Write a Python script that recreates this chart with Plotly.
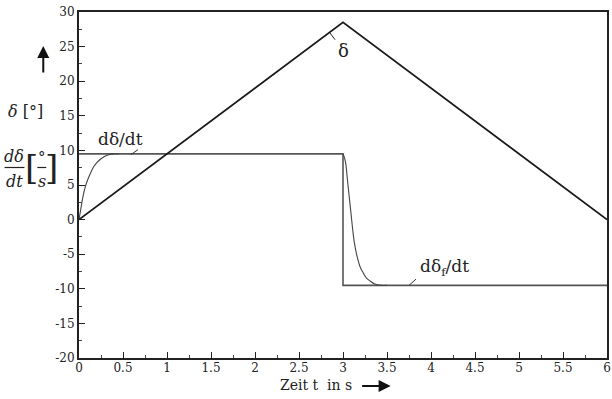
import plotly.graph_objects as go

# ---- data ----
delta_t = [0, 3, 6]
delta_v = [0, 28.5, 0]

step_t = [0, 3, 3, 6]
step_v = [9.5, 9.5, -9.5, -9.5]

rise_t = [0, 0.02, 0.04, 0.06, 0.08, 0.1, 0.13, 0.16, 0.2, 0.25, 0.3, 0.35, 0.4, 0.45]
rise_v = [0, 1.5, 3.0, 4.2, 5.1, 5.8, 6.7, 7.5, 8.2, 8.8, 9.2, 9.4, 9.5, 9.5]

fall_t = [3.0, 3.01, 3.03, 3.05, 3.07, 3.09, 3.11, 3.13, 3.16, 3.2, 3.23, 3.27, 3.31, 3.36, 3.43, 3.5]
fall_v = [9.5, 9.2, 8.2, 5.8, 3.4, 1.0, -1.4, -3.4, -5.3, -7.0, -7.7, -8.5, -8.9, -9.3, -9.5, -9.5]

x_ticks = [0, 0.5, 1, 1.5, 2, 2.5, 3, 3.5, 4, 4.5, 5, 5.5, 6]
y_ticks = [-20, -15, -10, -5, 0, 5, 10, 15, 20, 25, 30]

SERIF = "DejaVu Serif"
W, H = 612, 399
L, R, T, B = 79, 1, 12, 41
PW, PH = W - L - R, H - T - B


def px(x):
    return (x - L) / PW


def py(y):
    return (H - B - y) / PH


fig = go.Figure()
fig.add_trace(go.Scatter(x=step_t, y=step_v, mode="lines",
                         line=dict(color="#555555", width=1.6), hoverinfo="skip"))
fig.add_trace(go.Scatter(x=rise_t, y=rise_v, mode="lines", line_shape="spline",
                         line=dict(color="#444444", width=1.1), hoverinfo="skip"))
fig.add_trace(go.Scatter(x=fall_t, y=fall_v, mode="lines", line_shape="spline",
                         line=dict(color="#444444", width=1.1), hoverinfo="skip"))
fig.add_trace(go.Scatter(x=delta_t, y=delta_v, mode="lines",
                         line=dict(color="#1a1a1a", width=1.8), hoverinfo="skip"))

axis_common = dict(showgrid=False, zeroline=False, showline=True, mirror=True,
                   linecolor="#222222", linewidth=2, ticks="inside", tickcolor="#222222",
                   ticklen=6, tickwidth=1, ticklabeloverflow="allow",
                   tickfont=dict(family=SERIF, size=12, color="#222"))

fig.update_xaxes(range=[0, 6], tickvals=x_ticks, ticktext=[f"{v:g}" for v in x_ticks],
                 minor=dict(dtick=0.25, ticks="inside", ticklen=3, tickcolor="#444"),
                 ticklabelstandoff=-2, **axis_common)
fig.update_yaxes(range=[-20, 30], tickvals=y_ticks, ticktext=[f"{v:g}" for v in y_ticks],
                 minor=dict(dtick=2.5, ticks="inside", ticklen=3, tickcolor="#444"),
                 **axis_common)

ann = []
shapes = []


def text(x, y, s, size, xref="paper", yref="paper"):
    ann.append(dict(x=x, y=y, xref=xref, yref=yref, text=s, showarrow=False,
                    xanchor="center", yanchor="middle",
                    font=dict(family=SERIF, size=size, color="#222")))


# curve labels
text(3.0, 24.4, "δ", 18, "x", "y")
shapes.append(dict(type="line", xref="x", yref="y", x0=2.85, y0=27.0, x1=2.91, y1=26.0,
                   line=dict(color="#222", width=1)))
text(0.47, 11.7, "dδ/dt", 17, "x", "y")
shapes.append(dict(type="line", xref="x", yref="y", x0=0.59, y0=9.4, x1=0.67, y1=10.1,
                   line=dict(color="#333", width=1)))
text(4.15, -6.9, "dδ<sub>f</sub>/dt", 17, "x", "y")
shapes.append(dict(type="line", xref="x", yref="y", x0=3.75, y0=-9.5, x1=3.83, y1=-8.6,
                   line=dict(color="#333", width=1)))

# left axis labels
ann.append(dict(x=px(43), y=py(46), xref="paper", yref="paper", text="", showarrow=True,
                ax=0, ay=28, arrowhead=2, arrowsize=1.2, arrowwidth=2, arrowcolor="#111"))
text(px(25), py(112), "<i>δ</i> [°]", 16)
text(px(14), py(156), "<i>dδ</i>", 16)
text(px(14), py(181), "<i>dt</i>", 16)
shapes.append(dict(type="line", xref="paper", yref="paper", x0=px(4), x1=px(24),
                   y0=py(167.5), y1=py(167.5), line=dict(color="#222", width=1.2)))
text(px(31), py(167), "[", 34)
text(px(51), py(167), "]", 34)
text(px(41.5), py(157), "°", 15)
shapes.append(dict(type="line", xref="paper", yref="paper", x0=px(37), x1=px(46),
                   y0=py(167.5), y1=py(167.5), line=dict(color="#222", width=1.2)))
text(px(41.5), py(181), "<i>s</i>", 16)

# x axis title
text(px(318), py(385), "Zeit t  in s", 14)
ann.append(dict(x=px(393), y=py(386), xref="paper", yref="paper", text="", showarrow=True,
                ax=-30, ay=0, arrowhead=2, arrowsize=1.2, arrowwidth=2, arrowcolor="#111"))

fig.update_layout(width=W, height=H, margin=dict(l=L, r=R, t=T, b=B),
                  paper_bgcolor="white", plot_bgcolor="white", showlegend=False,
                  annotations=ann, shapes=shapes)

fig.write_html("out.html")
